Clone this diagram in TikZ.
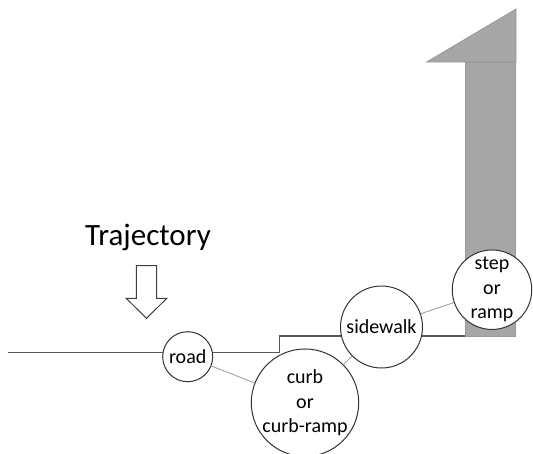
\documentclass[tikz,border=0pt]{standalone}
\usepackage{fontspec}
\setmainfont{Carlito}
\begin{document}
\begin{tikzpicture}[x=1pt,y=-1pt,
  bubble/.style={circle,draw=black!80,fill=white,line width=1pt,inner sep=0pt,align=center,font=\fontsize{20}{24.5}\selectfont},
  link/.style={draw=black!40,line width=0.8pt},
  ground/.style={draw=black!65,line width=1.5pt},
  block/.style={fill=black!35,draw=black!40,line width=0.8pt}]
\useasboundingbox (0,0) rectangle (533,453);
% building block
\fill[block] (465,62) rectangle (515.5,336);
\filldraw[block] (426.7,62) -- (516,9) -- (516,62) -- cycle;
% trajectory
\node[font=\fontsize{31}{36}\selectfont,anchor=base] (traj) at (148,245) {Trajectory};
\draw[draw=black!75,fill=white,line width=1pt] (136.3,265.7) -- (156.7,265.7) -- (156.7,298.3) -- (166.8,298.3) -- (146.5,318.3) -- (126.2,298.3) -- (136.3,298.3) -- cycle;
% ground line
\coordinate (start) at (8,352.5);
\coordinate (k1) at (279.5,352.5);
\coordinate (k2) at (279.5,336);
\coordinate (k3) at (465,336);
\draw[ground] (start) -- (k1) -- (k2) -- (k3);
% nodes
\node[bubble,minimum size=50pt] (road) at (187.7,356.7) {road};
\node[bubble,minimum size=98pt] (curb) at (305,402.7) {curb\\or\\curb-ramp};
\node[bubble,minimum size=82pt] (side) at (381.5,327) {sidewalk};
\node[bubble,minimum size=79.5pt] (step) at (492,289.7) {step\\or\\ramp};
% links
\draw[link] (road) -- (curb);
\draw[link] (curb) -- (side);
\draw[link] (side) -- (step);
\end{tikzpicture}
\end{document}
